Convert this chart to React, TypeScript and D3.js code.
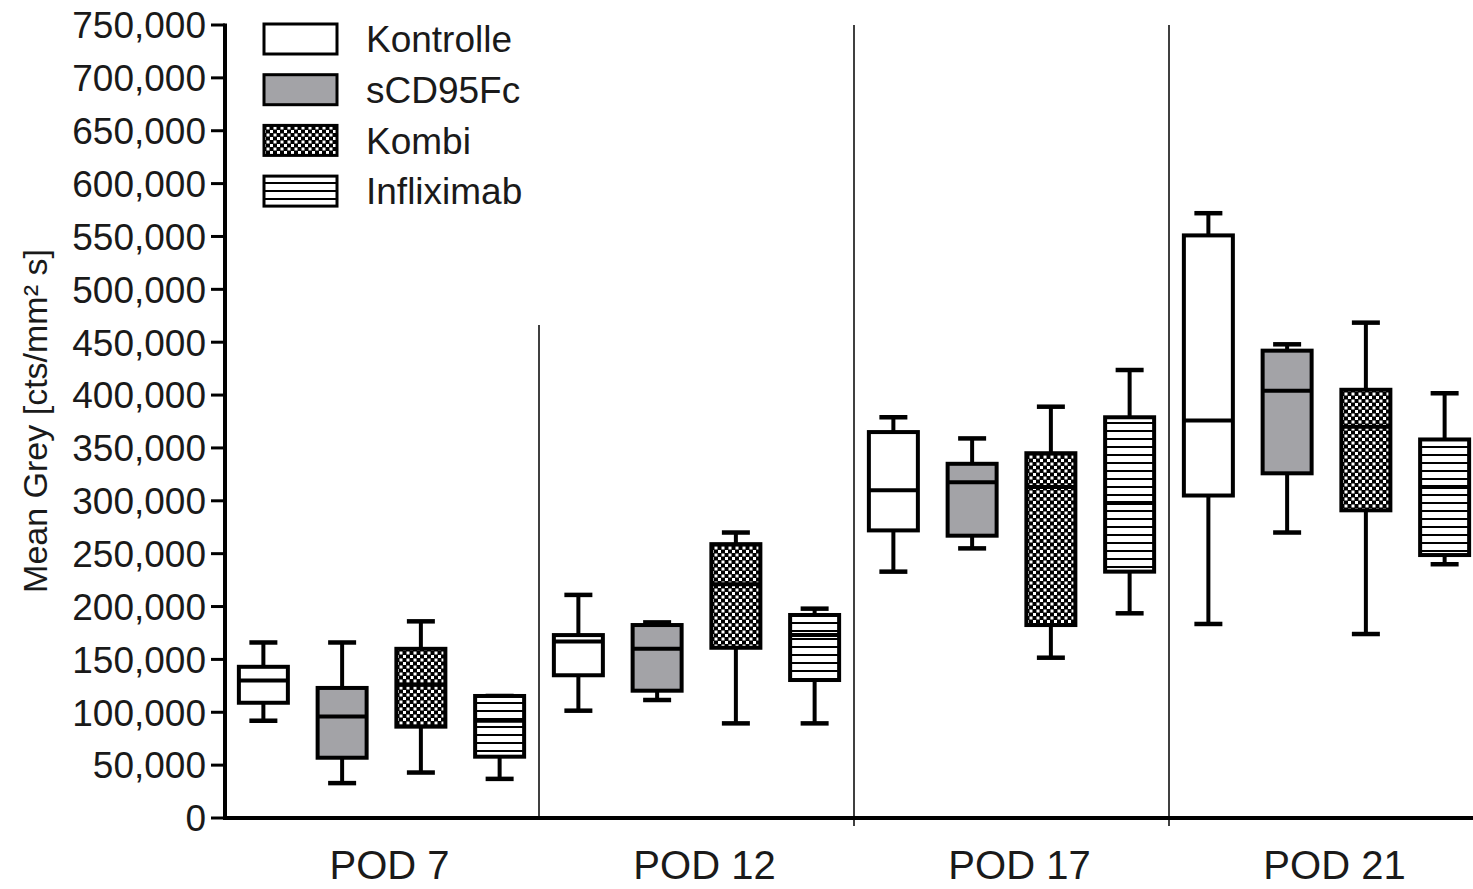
import React from "react";
import * as d3 from "d3";

// ---- data ----
const categories = ["POD 7", "POD 12", "POD 17", "POD 21"];
const seriesNames = ["Kontrolle", "sCD95Fc", "Kombi", "Infliximab"];
// [min, q1, median, q3, max] for each category
const kontrolle = [
  [92000, 109000, 130000, 143000, 166000],
  [101500, 135000, 167000, 173000, 211000],
  [233000, 272000, 310000, 365000, 379000],
  [183500, 305000, 376000, 551000, 572000],
];
const scd95fc = [
  [33000, 57000, 96000, 123000, 166000],
  [111600, 120400, 160000, 182500, 185000],
  [255000, 267000, 317500, 335000, 359000],
  [270000, 326000, 404000, 442000, 448000],
];
const kombi = [
  [43000, 86400, 126000, 160000, 186000],
  [89500, 161000, 221000, 259000, 270000],
  [151600, 182500, 313000, 345000, 389000],
  [174000, 291000, 370000, 405000, 468500],
];
const infliximab = [
  [37000, 58000, 92000, 115400, 115400],
  [89500, 130500, 173000, 192000, 198000],
  [193600, 233000, 298000, 379000, 423700],
  [240000, 248700, 313000, 358000, 401700],
];
const seriesData = [kontrolle, scd95fc, kombi, infliximab];
const yTickValues = d3.range(0, 750001, 50000);
const yTitle = "Mean Grey [cts/mm² s]";

const fills = ["#ffffff", "#a3a3a7", "url(#pKombi)", "url(#pInflix)"];
const FONT = "'Liberation Sans', Arial, sans-serif";
const TXT = "#1a1a1a";

export default function App() {
  const W = 1473;
  const H = 889;
  const y = d3.scaleLinear().domain([0, 750000]).range([818, 25]);
  const x0 = d3.scaleBand<string>().domain(categories).range([224, 1484]);
  const x1 = d3
    .scaleBand<string>()
    .domain(seriesNames)
    .range([0, x0.bandwidth()])
    .paddingInner(0.327)
    .paddingOuter(0.1635);
  const bw = x1.bandwidth();
  const capW = 28;
  const axisY = y(0);
  const axisX = 225;

  return (
    <svg
      width={W}
      height={H}
      style={{ position: "absolute", left: 0, top: 0, background: "#fff" }}
      fontFamily={FONT}
    >
      <defs>
        <pattern id="pKombi" patternUnits="userSpaceOnUse" width={7} height={7}>
          <rect width={7} height={7} fill="#000" />
          <rect x={0.5} y={0.5} width={3} height={3} fill="#fff" />
          <rect x={4} y={4} width={3} height={3} fill="#fff" />
        </pattern>
        <pattern id="pInflix" patternUnits="userSpaceOnUse" width={8} height={8}>
          <rect width={8} height={8} fill="#fff" />
          <rect x={0} y={6} width={8} height={2} fill="#000" />
        </pattern>
      </defs>

      {/* separators */}
      {categories.slice(1).map((c, i) => {
        const xx = x0(c)!;
        return (
          <line
            key={c}
            x1={xx}
            x2={xx}
            y1={i === 0 ? 325 : 25}
            y2={i === 0 ? axisY : axisY + 8}
            stroke="#000"
            strokeWidth={1.5}
          />
        );
      })}

      {/* boxes */}
      {seriesData.map((ser, si) =>
        ser.map((d, ci) => {
          const [mn, q1, md, q3, mx] = d;
          const left = x0(categories[ci])! + x1(seriesNames[si])!;
          const cx = left + bw / 2;
          return (
            <g key={`${si}-${ci}`}>
              <line x1={cx} x2={cx} y1={y(mx)} y2={y(q3)} stroke="#000" strokeWidth={4} />
              <line x1={cx} x2={cx} y1={y(q1)} y2={y(mn)} stroke="#000" strokeWidth={4} />
              <line x1={cx - capW / 2} x2={cx + capW / 2} y1={y(mx)} y2={y(mx)} stroke="#000" strokeWidth={4.5} />
              <line x1={cx - capW / 2} x2={cx + capW / 2} y1={y(mn)} y2={y(mn)} stroke="#000" strokeWidth={4.5} />
              <rect
                x={left + 2}
                y={y(q3)}
                width={bw - 4}
                height={y(q1) - y(q3)}
                fill={fills[si]}
                stroke="#000"
                strokeWidth={4}
              />
              <line x1={left + 2} x2={left + bw - 2} y1={y(md)} y2={y(md)} stroke="#000" strokeWidth={4} />
            </g>
          );
        })
      )}

      {/* y axis */}
      <line x1={axisX} x2={axisX} y1={y(750000) - 1.5} y2={axisY + 2} stroke="#000" strokeWidth={4} />
      {yTickValues.map((v) => (
        <g key={v}>
          <line x1={axisX - 14} x2={axisX} y1={y(v)} y2={y(v)} stroke="#000" strokeWidth={3} />
          <text
            x={206}
            y={y(v)}
            dy="0.36em"
            textAnchor="end"
            fontSize={37}
            fill={TXT}
          >
            {d3.format(",")(v)}
          </text>
        </g>
      ))}
      <text
        transform={`translate(35, 421) rotate(-90)`}
        textAnchor="middle"
        dy="0.36em"
        fontSize={34}
        fill={TXT}
      >
        {yTitle}
      </text>

      {/* x axis */}
      <line x1={axisX - 2} x2={W} y1={axisY} y2={axisY} stroke="#000" strokeWidth={4} />
      {categories.map((c) => (
        <text
          key={c}
          x={x0(c)! + x0.bandwidth() / 2 + 8}
          y={879}
          textAnchor="middle"
          fontSize={40}
          fill={TXT}
        >
          {c}
        </text>
      ))}

      {/* legend */}
      {seriesNames.map((s, i) => {
        const top = 24 + i * 50.7;
        return (
          <g key={s}>
            <rect x={264} y={top} width={73} height={30} fill={fills[i]} stroke="#000" strokeWidth={3} />
            <text x={366} y={top + 15} dy="0.36em" fontSize={37} fill={TXT}>
              {s}
            </text>
          </g>
        );
      })}
    </svg>
  );
}
